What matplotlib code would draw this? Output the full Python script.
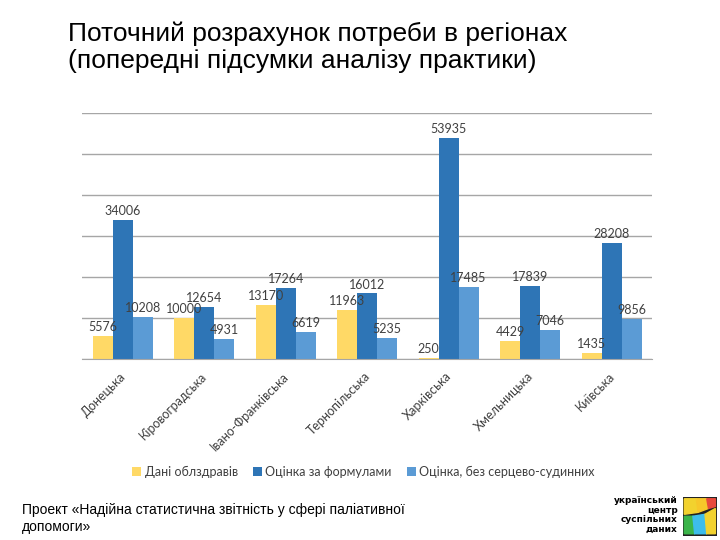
import numpy as np
import matplotlib
matplotlib.use('Agg')
import matplotlib.pyplot as plt
from matplotlib.patches import Rectangle, Polygon

# Data
regions = ['Донецька', 'Кіровоградська', 'Івано-Франківська', 'Тернопільська',
           'Харківська', 'Хмельницька', 'Київська']
dani = [5576, 10000, 13170, 11963, 250, 4429, 1435]
formula = [34006, 12654, 17264, 16012, 53935, 17839, 28208]
bez_ssz = [10208, 4931, 6619, 5235, 17485, 7046, 9856]
series_names = ['Дані облздравів', 'Оцінка за формулами', 'Оцінка, без серцево-судинних']
colors = ['#FFD966', '#2E75B6', '#5B9BD5']

plt.rcParams['font.family'] = ['Lato', 'DejaVu Sans']

fig = plt.figure(figsize=(7.2, 5.4), dpi=100)
ax = fig.add_axes([0.114, 0.335, 0.792, 0.456])

x = np.arange(len(regions))
w = 0.245
for i, vals in enumerate([dani, formula, bez_ssz]):
    pos = x + (i - 1) * w
    ax.bar(pos, vals, width=w, color=colors[i], label=series_names[i], zorder=2)
    for p, v in zip(pos, vals):
        ax.text(p, v + 700, str(v), ha='center', va='bottom', fontsize=9,
                color='#404040', zorder=3)

ax.set_xlim(-0.5, len(regions) - 0.5)
ax.set_ylim(0, 60000)
ax.set_yticks(np.arange(0, 60001, 10000))
ax.yaxis.grid(True, color='#A6A6A6', linewidth=1, zorder=0)
ax.tick_params(axis='y', length=0, labelleft=False)
ax.tick_params(axis='x', length=0, pad=8)
for s in ['left', 'right', 'top']:
    ax.spines[s].set_visible(False)
ax.spines['bottom'].set_color('#A6A6A6')
ax.set_xticks(x - 0.04)
ax.set_xticklabels(regions, rotation=45, ha='right', rotation_mode='anchor',
                   fontsize=9, color='#404040')

leg = fig.legend(loc='center', bbox_to_anchor=(0.505, 0.126), ncol=3, frameon=False,
                 fontsize=9, handlelength=0.7, handleheight=0.7, handletextpad=0.3,
                 columnspacing=1.2)
for t in leg.get_texts():
    t.set_color('#404040')

fig.text(0.094, 0.96, 'Поточний розрахунок потреби в регіонах\n(попередні підсумки аналізу практики)',
         ha='left', va='top', fontsize=19, family=['Liberation Sans', 'DejaVu Sans'],
         linespacing=1.15)

fig.text(0.03, 0.068, 'Проект «Надійна статистична звітність у сфері паліативної\nдопомоги»',
         ha='left', va='top', fontsize=10, family=['Liberation Sans', 'DejaVu Sans'],
         linespacing=1.25)

# logo
fig.text(0.941, 0.012, 'український\nцентр\nсуспільних\nданих', ha='right', va='bottom',
         fontsize=6.5, fontweight='bold', linespacing=1.05, family=['DejaVu Sans'])
lax = fig.add_axes([0.948, 0.008, 0.048, 0.072])
lax.set_xlim(0, 1)
lax.set_ylim(0, 1)
lax.axis('off')
lax.add_patch(Rectangle((0, 0), 1, 1, color='#222222'))
pieces = [
    ([(0.05, 0.55), (0.45, 0.6), (0.4, 0.95), (0.05, 0.95)], '#F2D22E'),
    ([(0.45, 0.6), (0.75, 0.7), (0.7, 0.95), (0.4, 0.95)], '#F7C72A'),
    ([(0.75, 0.7), (0.95, 0.75), (0.95, 0.95), (0.7, 0.95)], '#E84A3C'),
    ([(0.05, 0.05), (0.35, 0.05), (0.3, 0.5), (0.05, 0.5)], '#3BB54A'),
    ([(0.35, 0.05), (0.7, 0.05), (0.65, 0.55), (0.3, 0.5)], '#3DBDEB'),
    ([(0.7, 0.05), (0.95, 0.05), (0.95, 0.7), (0.65, 0.55)], '#F2D22E'),
]
for pts, c in pieces:
    lax.add_patch(Polygon(pts, closed=True, color=c))

fig.savefig('out.png', dpi=100)
